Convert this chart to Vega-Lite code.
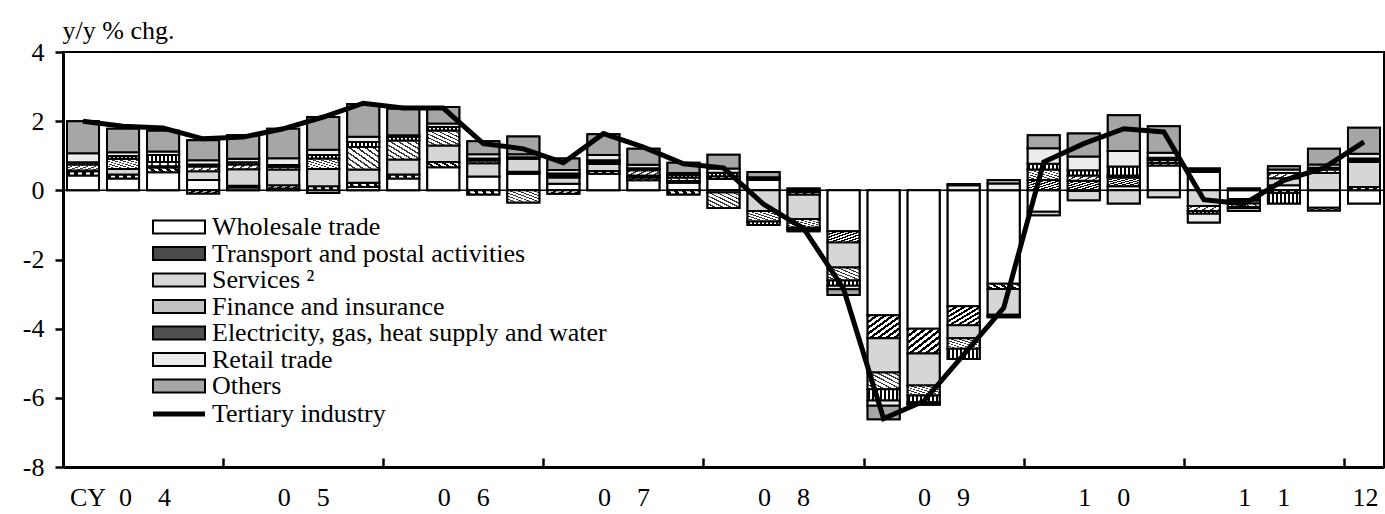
{
  "$schema": "https://vega.github.io/schema/vega-lite/v6.json",
  "width": 1321,
  "height": 415,
  "autosize": {"type": "none"},
  "padding": {"left": 63, "top": 52, "right": 1, "bottom": 47},
  "background": "white",
  "config": {
    "font": "Liberation Serif",
    "view": {"stroke": "black", "strokeWidth": 2},
    "axis": {"grid": false, "labelFont": "Liberation Serif", "titleFont": "Liberation Serif", "labelColor": "black", "titleColor": "black", "domainColor": "black", "tickColor": "black"},
    "legend": {"labelFont": "Liberation Serif", "labelColor": "black"}
  },
  "data": {
    "values": [
      {"q":"04Q1","w":0.43,"t":0.12,"s":0.02,"f":0.18,"e":0.06,"r":0.26,"o":0.93,"total":2.0},
      {"q":"04Q2","w":0.34,"t":0.12,"s":0.16,"f":0.29,"e":0.08,"r":0.11,"o":0.68,"total":1.85},
      {"q":"04Q3","w":0.52,"t":0.14,"s":0.04,"f":0.12,"e":0.2,"r":0.1,"o":0.6,"total":1.8},
      {"q":"04Q4","w":0.3,"t":-0.09,"s":0.25,"f":0.14,"e":0.06,"r":0.12,"o":0.58,"total":1.49},
      {"q":"05Q1","w":0.08,"t":0.05,"s":0.48,"f":0.14,"e":0.06,"r":0.1,"o":0.68,"total":1.54},
      {"q":"05Q2","w":0.05,"t":0.1,"s":0.45,"f":0.08,"e":0.05,"r":0.2,"o":0.85,"total":1.78},
      {"q":"05Q3","w":-0.08,"t":0.12,"s":0.5,"f":0.3,"e":0.1,"r":0.15,"o":0.95,"total":2.12},
      {"q":"05Q4","w":0.1,"t":0.12,"s":0.38,"f":0.65,"e":0.15,"r":0.15,"o":0.95,"total":2.52},
      {"q":"06Q1","w":0.34,"t":0.12,"s":0.43,"f":0.55,"e":0.1,"r":0.05,"o":0.77,"total":2.38},
      {"q":"06Q2","w":0.67,"t":0.15,"s":0.48,"f":0.43,"e":0.1,"r":0.1,"o":0.48,"total":2.38},
      {"q":"06Q3","w":0.4,"t":-0.12,"s":0.38,"f":0.08,"e":0.06,"r":0.12,"o":0.38,"total":1.35},
      {"q":"06Q4","w":0.48,"t":0.06,"s":0.37,"f":-0.35,"e":0.05,"r":0.08,"o":0.52,"total":1.2},
      {"q":"07Q1","w":0.19,"t":-0.1,"s":0.18,"f":0.06,"e":0.06,"r":0.1,"o":0.33,"total":0.8},
      {"q":"07Q2","w":0.48,"t":0.08,"s":0.2,"f":0.06,"e":0.05,"r":0.15,"o":0.6,"total":1.64},
      {"q":"07Q3","w":0.29,"t":0.08,"s":0.06,"f":0.15,"e":0.06,"r":0.1,"o":0.46,"total":1.25},
      {"q":"07Q4","w":0.22,"t":-0.12,"s":0.05,"f":0.1,"e":0.08,"r":0.05,"o":0.3,"total":0.77},
      {"q":"08Q1","w":0.33,"t":0.08,"s":-0.06,"f":-0.45,"e":0.1,"r":0.12,"o":0.4,"total":0.65},
      {"q":"08Q2","w":0.3,"t":0.05,"s":-0.6,"f":-0.3,"e":-0.1,"r":0.03,"o":0.15,"total":-0.4},
      {"q":"08Q3","w":-0.05,"t":-0.08,"s":-0.7,"f":-0.25,"e":-0.05,"r":-0.05,"o":0.05,"total":-1.1},
      {"q":"08Q4","w":-1.18,"t":-0.33,"s":-0.72,"f":-0.38,"e":-0.15,"r":-0.1,"o":-0.17,"total":-2.85},
      {"q":"09Q1","w":-3.61,"t":-0.67,"s":-0.99,"f":-0.48,"e":-0.33,"r":-0.15,"o":-0.39,"total":-6.6},
      {"q":"09Q2","w":-4.0,"t":-0.72,"s":-0.92,"f":-0.29,"e":-0.2,"r":-0.05,"o":-0.02,"total":-6.1},
      {"q":"09Q3","w":-3.35,"t":-0.55,"s":-0.38,"f":-0.3,"e":-0.3,"r":0.15,"o":0.03,"total":-4.75},
      {"q":"09Q4","w":-2.7,"t":-0.15,"s":-0.75,"f":-0.05,"e":-0.02,"r":0.2,"o":0.1,"total":-3.4},
      {"q":"10Q1","w":-0.62,"t":0.3,"s":-0.1,"f":0.3,"e":0.17,"r":0.45,"o":0.37,"total":0.82},
      {"q":"10Q2","w":-0.02,"t":0.28,"s":-0.27,"f":0.15,"e":0.15,"r":0.4,"o":0.66,"total":1.35},
      {"q":"10Q3","w":0.12,"t":0.25,"s":-0.38,"f":0.06,"e":0.26,"r":0.45,"o":1.03,"total":1.78},
      {"q":"10Q4","w":0.72,"t":0.08,"s":-0.2,"f":0.08,"e":0.06,"r":0.15,"o":0.76,"total":1.69},
      {"q":"11Q1","w":0.53,"t":0.05,"s":-0.45,"f":-0.15,"e":-0.08,"r":-0.25,"o":0.05,"total":-0.27},
      {"q":"11Q2","w":-0.25,"t":-0.05,"s":-0.08,"f":-0.1,"e":-0.04,"r":-0.08,"o":0.05,"total":-0.39},
      {"q":"11Q3","w":0.15,"t":-0.08,"s":0.2,"f":0.15,"e":-0.3,"r":0.1,"o":0.1,"total":0.29},
      {"q":"11Q4","w":-0.5,"t":-0.08,"s":0.5,"f":0.1,"e":0.05,"r":0.1,"o":0.45,"total":0.65},
      {"q":"12Q1","w":-0.38,"t":0.1,"s":0.72,"f":0.05,"e":0.05,"r":0.14,"o":0.75,"total":1.4}
    ]
  },
  "layer": [
    {
      "transform": [
        {"fold": ["w","t","s","f","e","r","o"], "as": ["sector","v"]},
        {"calculate": "indexof(['w','t','s','f','e','r','o'], datum.sector)", "as": "k"}
      ],
      "mark": {"type": "bar", "stroke": "black", "strokeWidth": 2},
      "encoding": {
        "x": {
          "field": "q", "type": "ordinal",
          "scale": {
            "domain": ["04Q1","04Q2","04Q3","04Q4","05Q1","05Q2","05Q3","05Q4","06Q1","06Q2","06Q3","06Q4","07Q1","07Q2","07Q3","07Q4","08Q1","08Q2","08Q3","08Q4","09Q1","09Q2","09Q3","09Q4","10Q1","10Q2","10Q3","10Q4","11Q1","11Q2","11Q3","11Q4","12Q1"],
            "paddingInner": 0.2, "paddingOuter": 0.1
          },
          "axis": {
            "title": null,
            "values": ["04Q1","05Q1","06Q1","07Q1","08Q1","09Q1","10Q1","11Q1","12Q1"],
            "bandPosition": 0,
            "tickOffset": -4,
            "tickSize": -9,
            "tickWidth": 2.5,
            "domainWidth": 3,
            "labelAngle": 0,
            "labelFontSize": 26,
            "labelPadding": 26,
            "labelOffset": {"condition": [{"test": "datum.value === '04Q1'", "value": 41}, {"test": "datum.value === '12Q1'", "value": 5}], "value": 64},
            "labelExpr": "datum.value == '04Q1' ? 'CY\u00a0\u00a00\u00a0\u00a0\u00a0\u00a04' : datum.value == '12Q1' ? '12' : slice(datum.value, 0, 1) + '\u00a0\u00a0\u00a0\u00a0' + slice(datum.value, 1, 2)"
          }
        },
        "y": {
          "field": "v", "type": "quantitative", "stack": "zero",
          "scale": {"domain": [-8, 4], "nice": false, "zero": false},
          "axis": {
            "values": [-8,-6,-4,-2,0,2,4],
            "tickSize": 8, "tickWidth": 2.5, "domainWidth": 3,
            "labelFontSize": 26, "labelPadding": 11,
            "labelExpr": "'' + datum.value",
            "title": "y/y % chg.",
            "titleAngle": 0, "titleAlign": "left", "titleBaseline": "alphabetic",
            "titleX": -1, "titleY": -14,
            "titleFontSize": 26, "titleFontWeight": "normal"
          }
        },
        "fill": {
          "field": "sector", "type": "nominal",
          "scale": {
            "domain": ["w","t","s","f","e","r","o"],
            "range": ["#ffffff", "#4a4a4a", "#d6d6d6", "#c2c2c2", "#505050", "#ececec", "#a6a6a6"]
          },
          "legend": {
            "orient": "none", "legendX": 103, "legendY": 162,
            "title": null,
            "symbolType": "M-4,-1H4V1H-4Z", "symbolSize": 169,
            "symbolStrokeColor": "black", "symbolStrokeWidth": 2, "symbolOpacity": 1,
            "labelFontSize": 26, "labelOffset": 20, "rowPadding": 0.5, "labelLimit": 0,
            "labelExpr": "datum.value == 'w' ? 'Wholesale trade' : datum.value == 't' ? 'Transport and postal activities' : datum.value == 's' ? 'Services ²' : datum.value == 'f' ? 'Finance and insurance' : datum.value == 'e' ? 'Electricity, gas, heat supply and water' : datum.value == 'r' ? 'Retail trade' : 'Others'"
          }
        },
        "order": {"field": "k", "type": "quantitative"}
      }
    },
    {
      "transform": [
        {"fold": ["w","t","s","f","e","r","o"], "as": ["sector","v"]},
        {"calculate": "indexof(['w','t','s','f','e','r','o'], datum.sector)", "as": "k"}
      ],
      "mark": {"type": "bar", "stroke": "black", "strokeWidth": 2},
      "encoding": {
        "x": {"field": "q", "type": "ordinal"},
        "y": {"field": "v", "type": "quantitative", "stack": "zero"},
        "fill": {
          "condition": [
            {"test": "datum.sector === 't'", "value": {"gradient": "linear", "x1": 0, "y1": 0, "x2": 1, "y2": 1, "stops": [
                {"offset": 0, "color": "#000"}, {"offset": 0.06, "color": "#000"}, {"offset": 0.06, "color": "#fff"}, {"offset": 0.125, "color": "#fff"},
                {"offset": 0.125, "color": "#000"}, {"offset": 0.185, "color": "#000"}, {"offset": 0.185, "color": "#fff"}, {"offset": 0.25, "color": "#fff"},
                {"offset": 0.25, "color": "#000"}, {"offset": 0.31, "color": "#000"}, {"offset": 0.31, "color": "#fff"}, {"offset": 0.375, "color": "#fff"},
                {"offset": 0.375, "color": "#000"}, {"offset": 0.435, "color": "#000"}, {"offset": 0.435, "color": "#fff"}, {"offset": 0.5, "color": "#fff"},
                {"offset": 0.5, "color": "#000"}, {"offset": 0.56, "color": "#000"}, {"offset": 0.56, "color": "#fff"}, {"offset": 0.625, "color": "#fff"},
                {"offset": 0.625, "color": "#000"}, {"offset": 0.685, "color": "#000"}, {"offset": 0.685, "color": "#fff"}, {"offset": 0.75, "color": "#fff"},
                {"offset": 0.75, "color": "#000"}, {"offset": 0.81, "color": "#000"}, {"offset": 0.81, "color": "#fff"}, {"offset": 0.875, "color": "#fff"},
                {"offset": 0.875, "color": "#000"}, {"offset": 0.935, "color": "#000"}, {"offset": 0.935, "color": "#fff"}, {"offset": 1, "color": "#fff"}
              ]}},
            {"test": "datum.sector === 's'", "value": "#d6d6d6"},
            {"test": "datum.sector === 'f'", "value": {"gradient": "linear", "x1": 0, "y1": 1, "x2": 1, "y2": 0, "stops": [
                {"offset": 0, "color": "#333"}, {"offset": 0.04, "color": "#333"}, {"offset": 0.04, "color": "#fff"}, {"offset": 0.125, "color": "#fff"},
                {"offset": 0.125, "color": "#333"}, {"offset": 0.165, "color": "#333"}, {"offset": 0.165, "color": "#fff"}, {"offset": 0.25, "color": "#fff"},
                {"offset": 0.25, "color": "#333"}, {"offset": 0.29, "color": "#333"}, {"offset": 0.29, "color": "#fff"}, {"offset": 0.375, "color": "#fff"},
                {"offset": 0.375, "color": "#333"}, {"offset": 0.415, "color": "#333"}, {"offset": 0.415, "color": "#fff"}, {"offset": 0.5, "color": "#fff"},
                {"offset": 0.5, "color": "#333"}, {"offset": 0.54, "color": "#333"}, {"offset": 0.54, "color": "#fff"}, {"offset": 0.625, "color": "#fff"},
                {"offset": 0.625, "color": "#333"}, {"offset": 0.665, "color": "#333"}, {"offset": 0.665, "color": "#fff"}, {"offset": 0.75, "color": "#fff"},
                {"offset": 0.75, "color": "#333"}, {"offset": 0.79, "color": "#333"}, {"offset": 0.79, "color": "#fff"}, {"offset": 0.875, "color": "#fff"},
                {"offset": 0.875, "color": "#333"}, {"offset": 0.915, "color": "#333"}, {"offset": 0.915, "color": "#fff"}, {"offset": 1, "color": "#fff"}
              ]}},
            {"test": "datum.sector === 'e'", "value": {"gradient": "linear", "x1": 0, "y1": 0, "x2": 1, "y2": 0, "stops": [
                {"offset": 0, "color": "#000"}, {"offset": 0.0625, "color": "#000"}, {"offset": 0.0625, "color": "#fff"}, {"offset": 0.125, "color": "#fff"},
                {"offset": 0.125, "color": "#000"}, {"offset": 0.1875, "color": "#000"}, {"offset": 0.1875, "color": "#fff"}, {"offset": 0.25, "color": "#fff"},
                {"offset": 0.25, "color": "#000"}, {"offset": 0.3125, "color": "#000"}, {"offset": 0.3125, "color": "#fff"}, {"offset": 0.375, "color": "#fff"},
                {"offset": 0.375, "color": "#000"}, {"offset": 0.4375, "color": "#000"}, {"offset": 0.4375, "color": "#fff"}, {"offset": 0.5, "color": "#fff"},
                {"offset": 0.5, "color": "#000"}, {"offset": 0.5625, "color": "#000"}, {"offset": 0.5625, "color": "#fff"}, {"offset": 0.625, "color": "#fff"},
                {"offset": 0.625, "color": "#000"}, {"offset": 0.6875, "color": "#000"}, {"offset": 0.6875, "color": "#fff"}, {"offset": 0.75, "color": "#fff"},
                {"offset": 0.75, "color": "#000"}, {"offset": 0.8125, "color": "#000"}, {"offset": 0.8125, "color": "#fff"}, {"offset": 0.875, "color": "#fff"},
                {"offset": 0.875, "color": "#000"}, {"offset": 0.9375, "color": "#000"}, {"offset": 0.9375, "color": "#fff"}, {"offset": 1, "color": "#fff"}
              ]}},
            {"test": "datum.sector === 'r'", "value": "#ececec"},
            {"test": "datum.sector === 'o'", "value": "#a6a6a6"}
          ],
          "value": "#ffffff"
        },
        "order": {"field": "k", "type": "quantitative"}
      }
    },
    {
      "data": {"values": [{}]},
      "mark": {"type": "rule", "stroke": "black", "strokeWidth": 1.5},
      "encoding": {"y": {"datum": 0}}
    },
    {
      "mark": {"type": "line", "strokeWidth": 5},
      "encoding": {
        "x": {"field": "q", "type": "ordinal"},
        "y": {"field": "total", "type": "quantitative"},
        "stroke": {
          "datum": "Tertiary industry",
          "scale": {"range": ["black"]},
          "legend": {
            "orient": "none", "legendX": 103, "legendY": 349,
            "title": null,
            "symbolType": "M-4,0H4", "symbolSize": 169, "symbolStrokeWidth": 5,
            "labelFontSize": 26, "labelOffset": 20, "labelLimit": 0
          }
        }
      }
    }
  ]
}
